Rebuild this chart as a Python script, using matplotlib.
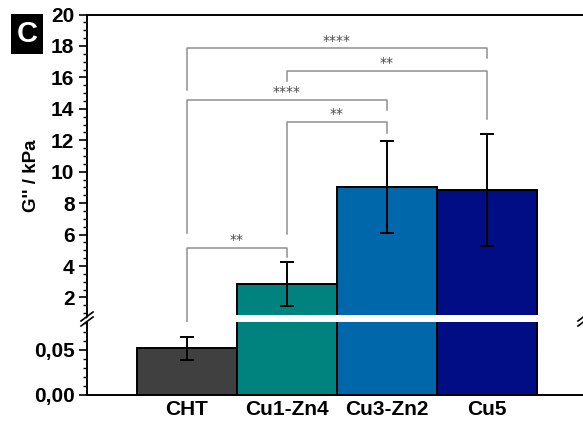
import matplotlib
matplotlib.use("Agg")
import matplotlib.pyplot as plt
from matplotlib.lines import Line2D
from matplotlib.patches import Polygon
import numpy as np

plt.rcParams['font.family'] = ['Liberation Sans', 'DejaVu Sans']

categories = ["CHT", "Cu1-Zn4", "Cu3-Zn2", "Cu5"]
values = [0.052, 2.84, 9.05, 8.84]          # kPa
errors = [0.013, 1.39, 2.92, 3.56]
colors = ["#404040", "#00837f", "#0068aa", "#000d85"]

top_ticks = [2, 4, 6, 8, 10, 12, 14, 16, 18, 20]
bot_ticks = [0.00, 0.05]
bot_ticklabels = ["0,00", "0,05"]

# significance brackets: (i, j, y_bar, left_leg_end, right_leg_end, label)
brackets = [
    (0, 3, 17.85, 15.2, 17.21, "****"),
    (1, 3, 16.41, 15.79, 13.33, "**"),
    (0, 2, 14.56, 6.08, 13.93, "****"),
    (1, 2, 13.18, 6.04, 12.44, "**"),
    (0, 1, 5.15, 0.12, 4.57, "**"),
]

W, H = 583, 425
fig = plt.figure(figsize=(W / 100, H / 100), dpi=100)

def fx(px):
    return px / W

def fy(py):
    return 1 - py / H

left_px, right_px = 87, 587
top_top, top_bot = 14.5, 315
bot_top, bot_bot = 322, 394.5

ax_t = fig.add_axes([fx(left_px), fy(top_bot), fx(right_px) - fx(left_px), (top_bot - top_top) / H])
ax_b = fig.add_axes([fx(left_px), fy(bot_bot), fx(right_px) - fx(left_px), (bot_bot - bot_top) / H])

x = np.arange(len(categories))
for ax in (ax_t, ax_b):
    ax.bar(x, values, width=1.0, color=colors, edgecolor="black", linewidth=1.4, zorder=2)
    ax.set_xlim(-1, 4)
    for s in ax.spines.values():
        s.set_linewidth(1.4)
    ax.tick_params(axis='y', which='major', direction='out', length=6, width=1.2,
                   labelsize=15, pad=3)
    ax.tick_params(axis='y', which='minor', direction='out', length=3, width=1.0)

ax_t.set_ylim(20 - (top_bot - top_top) / 15.72, 20)
ax_b.set_ylim(0, (bot_bot - bot_top) / 890)

ax_t.spines['bottom'].set_visible(False)
ax_b.spines['top'].set_visible(False)
ax_t.set_xticks([])
ax_b.set_xticks(x)
ax_b.set_xticklabels(categories, fontsize=15, fontweight='bold')
ax_b.tick_params(axis='x', length=0, pad=4)

ax_t.set_yticks(top_ticks)
ax_t.set_yticklabels([str(t) for t in top_ticks], fontweight='bold')
ax_t.set_yticks(np.arange(1.0, 20.01, 0.5), minor=True)
ax_b.set_yticks(bot_ticks)
ax_b.set_yticklabels(bot_ticklabels, fontweight='bold')
ax_b.set_yticks(np.arange(0.01, 0.081, 0.01), minor=True)

# error bars
ax_b.errorbar(x[:1], values[:1], yerr=errors[:1], fmt='none', ecolor='black',
              elinewidth=1.4, capsize=5, capthick=1.4, zorder=3)
ax_t.errorbar(x[1:], values[1:], yerr=errors[1:], fmt='none', ecolor='black',
              elinewidth=1.4, capsize=5, capthick=1.4, zorder=3)

# brackets
gcol = "#8f8f8f"
for i, j, yb, yl, yr, lab in brackets:
    ax_t.plot([i, i, j, j], [yl, yb, yb, yr], color=gcol, lw=1.1, clip_on=False, zorder=1)
    ax_t.annotate(lab, xy=((i + j) / 2, yb), xytext=(0, 0.5), textcoords='offset points',
                  ha='center', va='bottom', fontsize=10, color="#4a4a4a",
                  family='DejaVu Sans')

def pxline(xs, ys, **kw):
    fig.add_artist(Line2D([fx(v) for v in xs], [fy(v) for v in ys], transform=fig.transFigure, **kw))

# left spine connection through the gap, and break marks
pxline([left_px, left_px], [top_bot, bot_top], color='black', lw=1.4)
for bx in (left_px, right_px - 3):
    poly = Polygon([(fx(bx - 6), fy(323)), (fx(bx + 6), fy(313)), (fx(bx + 6), fy(317)), (fx(bx - 6), fy(327))],
                   closed=True, transform=fig.transFigure, facecolor='white', edgecolor='none', zorder=5)
    fig.add_artist(poly)
    pxline([bx - 6, bx + 6], [321, 312], color='black', lw=1.2, zorder=6)
    pxline([bx - 6, bx + 6], [326, 317], color='black', lw=1.2, zorder=6)

# y label
fig.text(fx(31), fy(176), "G'' / kPa", rotation=90, ha='center', va='center',
         fontsize=13.5, fontweight='bold')

# panel label
fig.text(fx(27), fy(34), "C", ha='center', va='center', fontsize=21, fontweight='bold',
         color='white', bbox=dict(boxstyle='square,pad=0.2', facecolor='black', edgecolor='none'))

fig.savefig("out.png", dpi=100)
